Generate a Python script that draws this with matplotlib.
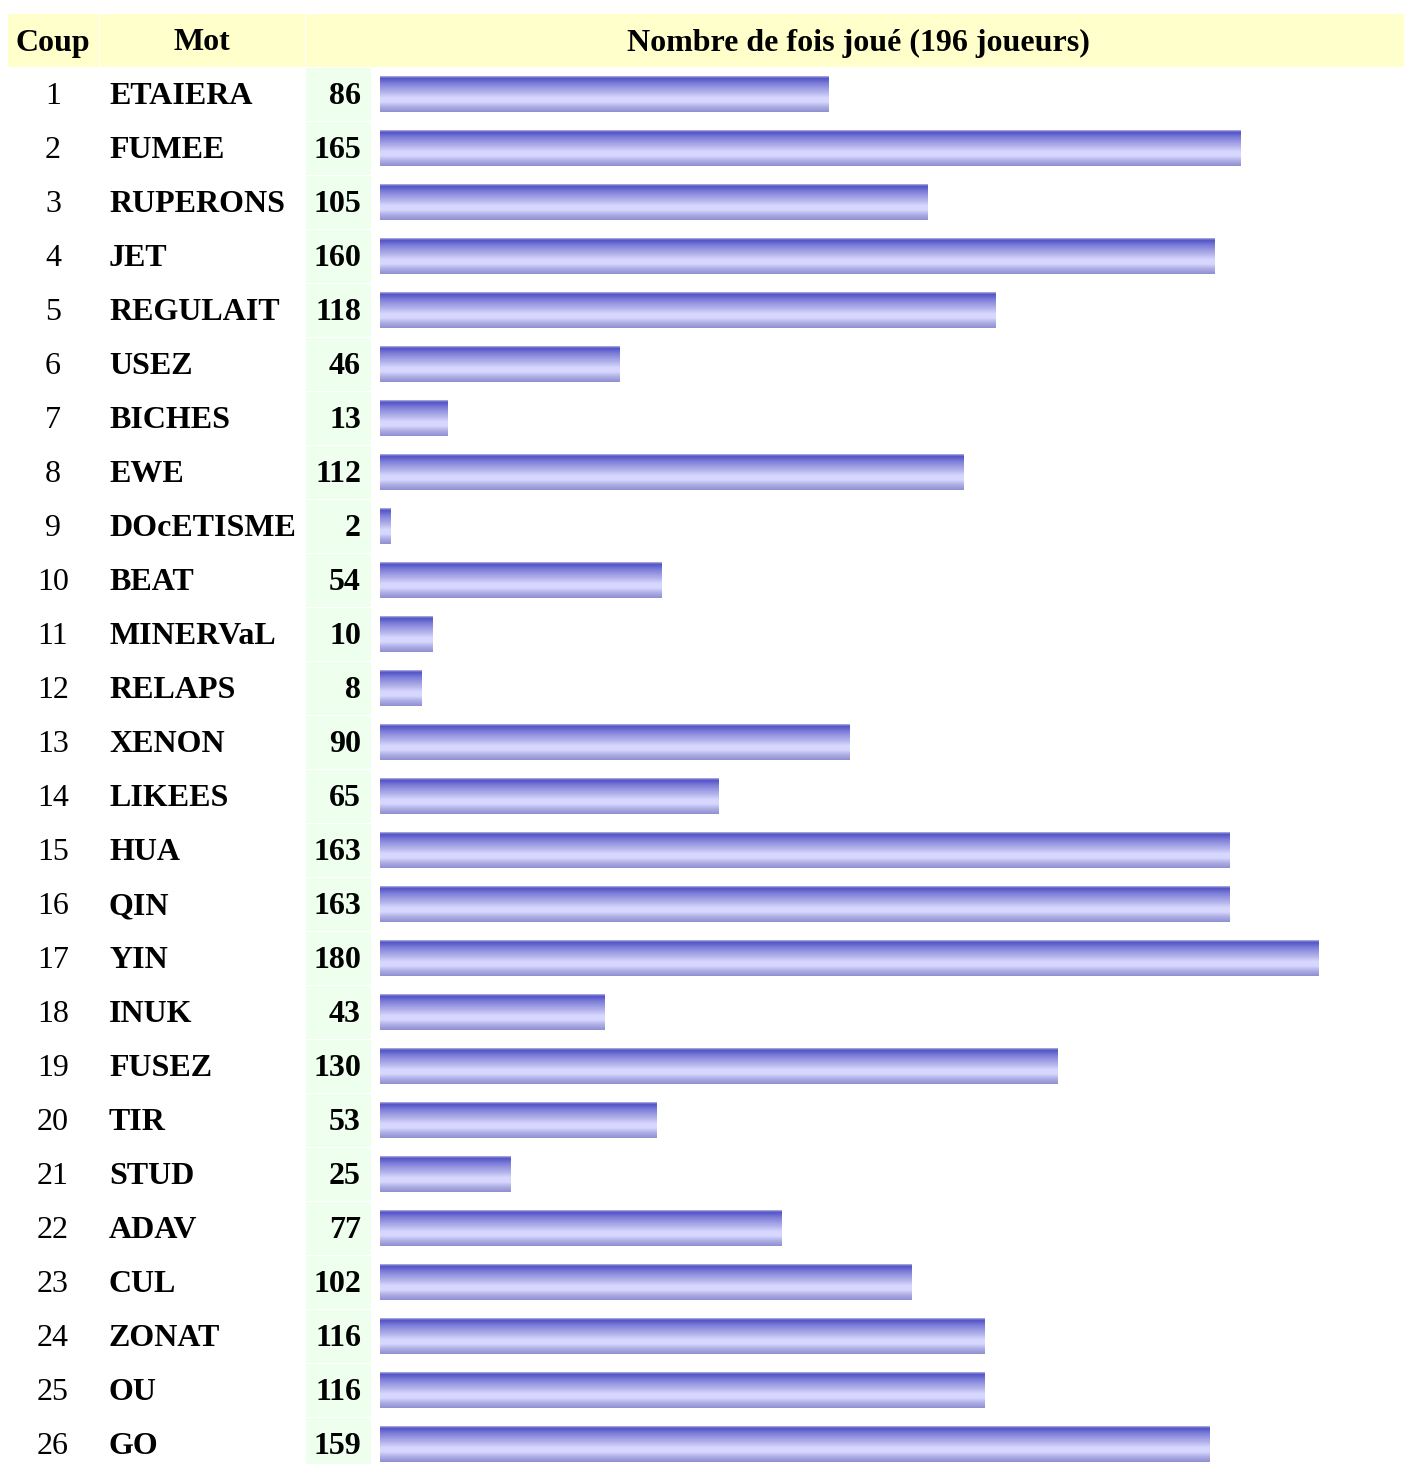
import numpy as np
import matplotlib.pyplot as plt
from matplotlib.colors import LinearSegmentedColormap

# data
coups = list(range(1, 27))
mots = ['ETAIERA', 'FUMEE', 'RUPERONS', 'JET', 'REGULAIT', 'USEZ', 'BICHES', 'EWE',
        'DOcETISME', 'BEAT', 'MINERVaL', 'RELAPS', 'XENON', 'LIKEES', 'HUA', 'QIN',
        'YIN', 'INUK', 'FUSEZ', 'TIR', 'STUD', 'ADAV', 'CUL', 'ZONAT', 'OU', 'GO']
joue = [86, 165, 105, 160, 118, 46, 13, 112, 2, 54, 10, 8, 90, 65, 163, 163,
        180, 43, 130, 53, 25, 77, 102, 116, 116, 159]
nb_joueurs = 196

W, H = 1404, 1464
fig = plt.figure(figsize=(W / 100, H / 100), dpi=100)
plt.rcParams['font.family'] = ['Liberation Serif', 'DejaVu Serif']
fs = 23

# table layer in pixel coordinates
tab = fig.add_axes([0, 0, 1, 1])
tab.set_xlim(0, W)
tab.set_ylim(H, 0)
tab.axis('off')

yellow = '#ffffcc'
green = '#eeffee'
# header cells
tab.add_patch(plt.Rectangle((8, 14), 90.5, 53, color=yellow, lw=0))
tab.add_patch(plt.Rectangle((100, 14), 204.5, 53, color=yellow, lw=0))
tab.add_patch(plt.Rectangle((306, 14), W - 306, 53, color=yellow, lw=0))
tab.text(53, 43, 'Coup', ha='center', va='center', fontsize=fs, fontweight='bold')
tab.text(202, 43, 'Mot', ha='center', va='center', fontsize=fs, fontweight='bold')
tab.text(858, 43, 'Nombre de fois joué (%d joueurs)' % nb_joueurs,
         ha='center', va='center', fontsize=fs, fontweight='bold')

row0, pitch = 94, 54
for i, (c, m, v) in enumerate(zip(coups, mots, joue)):
    yc = row0 + pitch * i
    tab.add_patch(plt.Rectangle((306, yc - 26.5), 65, 53, color=green, lw=0))
    tab.text(53, yc + 3, str(c), ha='center', va='center', fontsize=fs)
    tab.text(109, yc + 3, m, ha='left', va='center', fontsize=fs, fontweight='bold')
    tab.text(361, yc + 3, str(v), ha='right', va='center', fontsize=fs, fontweight='bold')

# bar layer: x in plays, y in row index
ax = fig.add_axes([380 / W, 0, (1402 - 380) / W, 1])
ax.axis('off')

cmap = LinearSegmentedColormap.from_list('barre', [
    (0.0, '#b0b0e2'), (0.05, '#5252c8'), (0.2, '#7e7ed8'), (0.45, '#b4b4ec'),
    (0.6, '#d6d6fe'), (0.72, '#d8d8ff'), (0.85, '#b0b0e6'), (1.0, '#9090d0')])
grad = np.linspace(0, 1, 64).reshape(-1, 1)
half = 18 / pitch
for i, v in enumerate(joue):
    ax.imshow(grad, cmap=cmap, aspect='auto', interpolation='bilinear',
              extent=(0, v, i + half, i - half))
ax.set_xlim(0, nb_joueurs)
ax.set_ylim((H - row0) / pitch, -row0 / pitch)

fig.savefig('out.png', dpi=100)
